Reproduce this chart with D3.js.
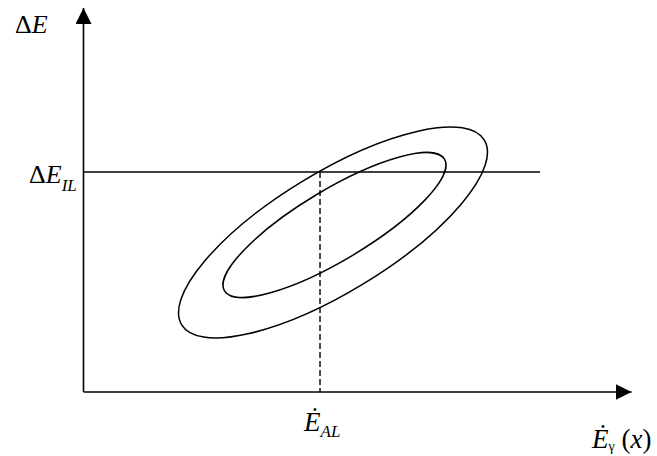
<!DOCTYPE html>
<html>

<head>
  <script src="https://d3js.org/d3.v7.min.js"></script>
  <style>
    body {
      margin: 0;
      background: #fff;
    }

    .chart text {
      font-family: "Liberation Serif", "Times New Roman", serif;
      fill: #000;
    }

    .axis-line {
      stroke: #000;
      stroke-width: 1.6;
      fill: none;
    }

    .contour {
      stroke: #000;
      stroke-width: 1.5;
      fill: none;
    }

    .it {
      font-style: italic;
    }
  </style>
</head>

<body>
  <div id="viz"></div>

  <script>
    // axis extents (data units, same scale on both axes)
    const xExtent = [0, 100];
    const yExtent = [0, 70.07];

    // confidence ellipses: centre, semi-axes, tilt in degrees
    const ellipseNames = ["outer", "inner"];
    const ellipseCx = [45.53, 45.80];
    const ellipseCy = [29.11, 30.47];
    const ellipseA = [32.35, 23.39];
    const ellipseB = [10.89, 6.44];
    const ellipseAngle = [31.4, 30.9];

    // limit lines
    const limitIL = 40.15;     // horizontal, Delta E_IL
    const limitILEnd = 83.3;
    const limitAL = 43.16;     // vertical dashed, E_AL

    const width = 657, height = 456;
    const origin = { x: 83.5, y: 392 };
    const pxPerUnit = (631.5 - origin.x) / (xExtent[1] - xExtent[0]);

    const x = d3.scaleLinear()
      .domain(xExtent)
      .range([origin.x, origin.x + pxPerUnit * xExtent[1]]);
    const y = d3.scaleLinear()
      .domain(yExtent)
      .range([origin.y, origin.y - pxPerUnit * yExtent[1]]);

    const svg = d3.select("#viz")
      .append("svg")
      .attr("class", "chart")
      .attr("width", width)
      .attr("height", height);

    // arrow heads
    const defs = svg.append("defs");
    defs.append("marker")
      .attr("id", "arrow")
      .attr("viewBox", "0 0 16 16")
      .attr("refX", 16)
      .attr("refY", 8)
      .attr("markerWidth", 16)
      .attr("markerHeight", 16)
      .attr("markerUnits", "userSpaceOnUse")
      .attr("orient", "auto")
      .append("path")
      .attr("d", "M0,0L16,8L0,16Z")
      .attr("fill", "#000");

    // axes
    svg.append("line")
      .attr("class", "axis-line")
      .attr("x1", x(0)).attr("y1", y(0))
      .attr("x2", x(xExtent[1])).attr("y2", y(0))
      .attr("marker-end", "url(#arrow)");

    svg.append("line")
      .attr("class", "axis-line")
      .attr("x1", x(0)).attr("y1", y(0))
      .attr("x2", x(0)).attr("y2", y(yExtent[1]))
      .attr("marker-end", "url(#arrow)");

    // ellipses
    const ellipses = ellipseNames.map((name, i) => ({
      name,
      cx: ellipseCx[i],
      cy: ellipseCy[i],
      a: ellipseA[i],
      b: ellipseB[i],
      angle: ellipseAngle[i]
    }));

    svg.append("g")
      .selectAll("ellipse")
      .data(ellipses)
      .join("ellipse")
      .attr("class", "contour")
      .attr("cx", 0)
      .attr("cy", 0)
      .attr("rx", d => x(d.a) - x(0))
      .attr("ry", d => x(d.b) - x(0))
      .attr("transform", d => `translate(${x(d.cx)},${y(d.cy)}) rotate(${-d.angle})`);

    // horizontal limit line
    svg.append("line")
      .attr("stroke", "#000")
      .attr("stroke-width", 1.5)
      .attr("x1", x(0)).attr("y1", y(limitIL))
      .attr("x2", x(limitILEnd)).attr("y2", y(limitIL));

    // dashed vertical line
    svg.append("line")
      .attr("stroke", "#000")
      .attr("stroke-width", 1.4)
      .attr("stroke-dasharray", "6,3")
      .attr("x1", x(limitAL)).attr("y1", y(limitIL))
      .attr("x2", x(limitAL)).attr("y2", y(0));

    // labels
    const yLabel = svg.append("text")
      .attr("x", 15)
      .attr("y", 33)
      .attr("font-size", 26);
    yLabel.append("tspan").text("\u0394");
    yLabel.append("tspan").attr("class", "it").text("E");

    const ilLabel = svg.append("text")
      .attr("x", 29)
      .attr("y", 183)
      .attr("font-size", 26);
    ilLabel.append("tspan").text("\u0394");
    ilLabel.append("tspan").attr("class", "it").text("E");
    ilLabel.append("tspan").attr("class", "it").attr("font-size", 17).attr("dy", 8).text("IL");

    const alLabel = svg.append("text")
      .attr("x", x(limitAL) - 16)
      .attr("y", 431)
      .attr("font-size", 27);
    alLabel.append("tspan").attr("class", "it").text("\u0116");
    alLabel.append("tspan").attr("class", "it").attr("font-size", 17).attr("dy", 6).text("AL");

    const xLabel = svg.append("text")
      .attr("x", 592)
      .attr("y", 448)
      .attr("font-size", 27);
    xLabel.append("tspan").attr("class", "it").text("\u0116");
    xLabel.append("tspan").attr("font-size", 14).attr("dy", 3).text("\u03b3");
    xLabel.append("tspan").attr("dy", -3).text(" (");
    xLabel.append("tspan").attr("class", "it").text("x");
    xLabel.append("tspan").text(")");
  </script>
</body>

</html>
